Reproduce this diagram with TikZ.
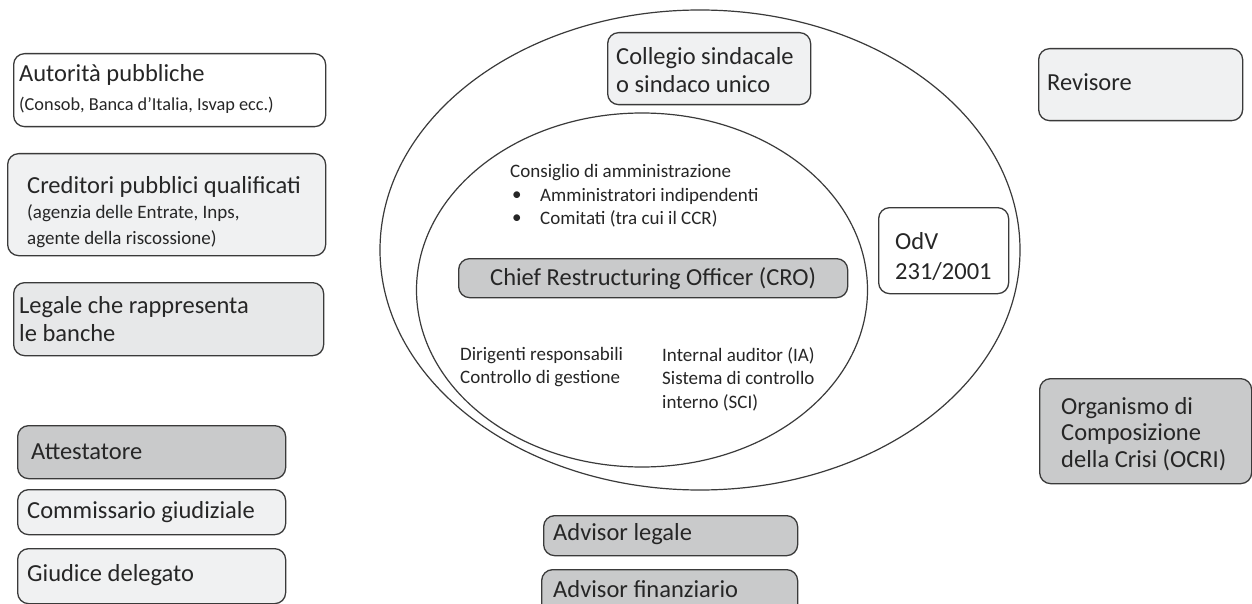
\documentclass[tikz,border=0pt]{standalone}
\usepackage{fontspec}
\setmainfont{Carlito}
\usetikzlibrary{shapes.geometric}
\definecolor{linec}{HTML}{3A3A3A}
\definecolor{txtc}{HTML}{262626}
\definecolor{lightf}{HTML}{F0F1F2}
\definecolor{midf}{HTML}{E7E8E9}
\definecolor{darkf}{HTML}{C9CACB}
\begin{document}
\begin{tikzpicture}[x=1pt,y=-1pt,
  box/.style={draw=linec, line width=1.3pt, rounded corners=11pt, anchor=north west, inner sep=0pt},
  txt/.style={text=txtc, align=left, inner sep=0pt, anchor=west},
  big/.style={font=\fontsize{24.5}{28}\selectfont},
  small/.style={font=\fontsize{19}{23.5}\selectfont},
  ell/.style={draw=linec, line width=1.2pt, ellipse, inner sep=0pt}]
\useasboundingbox (0,0) rectangle (1252,604);
\fill[white] (0,0) rectangle (1252,604);

% ellipses
\node[ell, minimum width=640pt, minimum height=480pt] (outer) at (700,250) {};
\node[ell, minimum width=451pt, minimum height=354pt] (inner) at (642,290) {};

% left column
\node[box, fill=white, minimum width=312pt, minimum height=73pt] (aut) at (13,53) {};
\node[txt, font=\fontsize{18.3}{29}\selectfont] (autt) at (19,89) {{\fontsize{24.5}{29}\selectfont Autorità pubbliche}\\(Consob, Banca d’Italia, Isvap ecc.)};

\node[box, fill=lightf, minimum width=318pt, minimum height=102pt] (cred) at (7,153) {};
\node[txt, font=\fontsize{19}{25.5}\selectfont] (credt) at (27,212) {{\fontsize{24.5}{25.5}\selectfont Creditori pubblici qualificati}\\(agenzia delle Entrate, Inps,\\agente della riscossione)};

\node[box, fill=midf, minimum width=310pt, minimum height=73pt] (leg) at (13,282) {};
\node[txt, big] (legt) at (19,319) {Legale che rappresenta\\le banche};

\node[box, fill=darkf, minimum width=268pt, minimum height=53pt] (att) at (17,425) {};
\node[txt, big] (attt) at (31,452) {Attestatore};

\node[box, fill=lightf, minimum width=268pt, minimum height=45pt] (comm) at (17,489) {};
\node[txt, big] (commt) at (27,512) {Commissario giudiziale};

\node[box, fill=lightf, minimum width=268pt, minimum height=55pt] (giud) at (17,548) {};
\node[txt, big] (giudt) at (27,575) {Giudice delegato};

% centre
\node[box, fill=lightf, minimum width=203pt, minimum height=72pt] (coll) at (607,32) {};
\node[txt, big] (collt) at (616,70) {Collegio sindacale\\o sindaco unico};

\node[txt, small] (cda) at (510,173) {Consiglio di amministrazione};
\node[txt, small] (b1) at (512,196) {•};
\node[txt, small] (b1t) at (540,196) {Amministratori indipendenti};
\node[txt, small] (b2) at (512,219) {•};
\node[txt, small] (b2t) at (540,219) {Comitati (tra cui il CCR)};

\node[box, fill=darkf, minimum width=389pt, minimum height=39pt] (cro) at (458,258) {};
\node[text=txtc, big, inner sep=0pt] (crot) at (cro.center) {Chief Restructuring Officer (CRO)};

\node[txt, small] (dir) at (460,367) {Dirigenti responsabili\\Controllo di gestione};
\node[txt, small] (ia) at (662,379) {Internal auditor (IA)\\Sistema di controllo\\interno (SCI)};

\node[box, fill=white, minimum width=130pt, minimum height=86pt] (odv) at (878,207) {};
\node[txt, font=\fontsize{24.5}{30}\selectfont] (odvt) at (895,257) {OdV\\231/2001};

\node[box, fill=darkf, minimum width=254pt, minimum height=40pt] (advl) at (543,515) {};
\node[txt, big] (advlt) at (553,534) {Advisor legale};
\node[box, fill=darkf, minimum width=256pt, minimum height=50pt] (advf) at (541,569) {};
\node[txt, big] (advft) at (553,589) {Advisor finanziario};

% right column
\node[box, fill=lightf, minimum width=204pt, minimum height=72pt] (rev) at (1038,48) {};
\node[txt, big] (revt) at (1047,82) {Revisore};

\node[box, fill=darkf, minimum width=212pt, minimum height=105pt] (ocri) at (1039,378) {};
\node[txt, font=\fontsize{24.5}{26.5}\selectfont] (ocrit) at (1061,434) {Organismo di\\Composizione\\della Crisi (OCRI)};
\end{tikzpicture}
\end{document}
